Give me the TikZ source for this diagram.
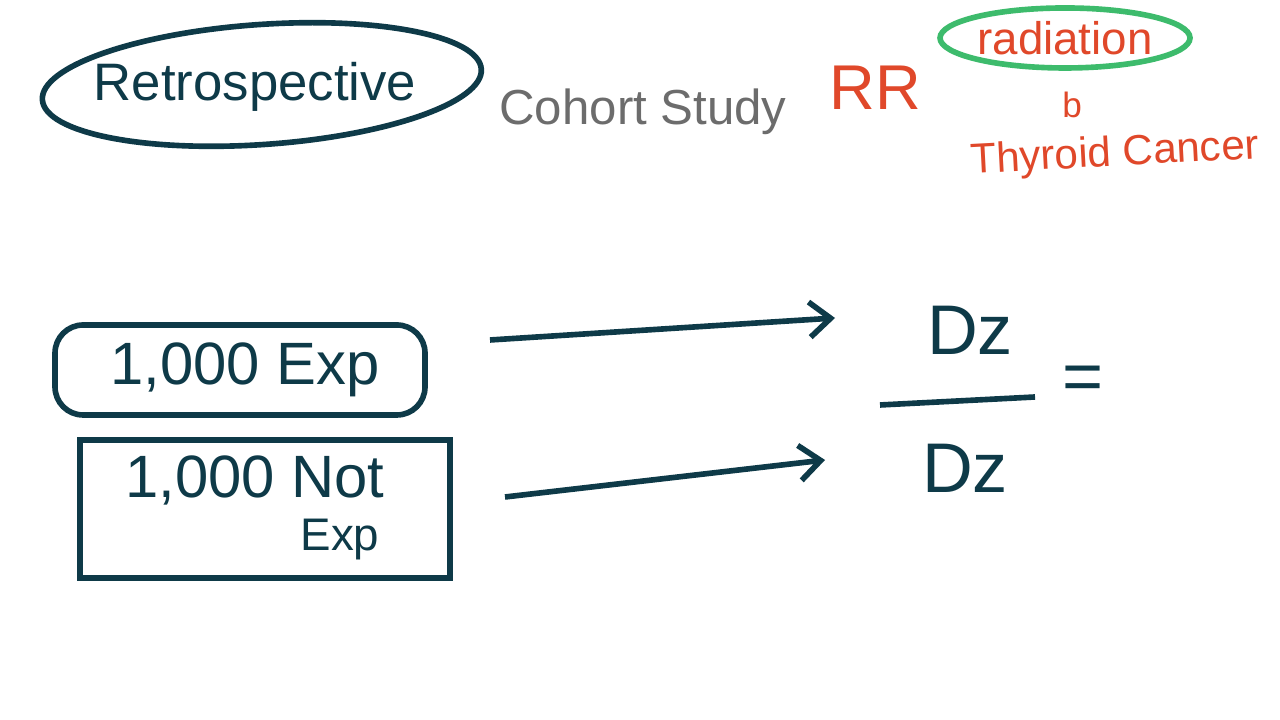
\documentclass[tikz,border=0pt]{standalone}
\usepackage{fontspec}
\setmainfont{Liberation Sans}
\usetikzlibrary{shapes.geometric,arrows.meta}
\definecolor{ink}{HTML}{0E3A48}
\definecolor{redink}{HTML}{E0482A}
\definecolor{greenink}{HTML}{3DBB6C}
\tikzset{
  hand/.style={ink, line width=1.6pt},
  big/.style={font=\fontsize{17}{20}\selectfont, text=ink},
  red/.style={text=redink},
  arr/.style={hand, -{Straight Barb[length=6pt,width=10pt]}}
}
\begin{document}
\begin{tikzpicture}
\useasboundingbox (0,0) rectangle (12.8,7.2);
\fill[white] (0,0) rectangle (12.8,7.2);

\node[big, font=\fontsize{15}{18}\selectfont] (retro) at (2.55,6.33) {Retrospective};
\draw[hand, rotate around={4:(retro.center)}] (2.62,6.35) ellipse (2.2 and 0.6);
\node[text=gray!85!black, font=\fontsize{14}{17}\selectfont] (cohort) at (6.43,6.08) {Cohort Study};

\node[red, font=\fontsize{18}{22}\selectfont] (rr) at (8.75,6.32) {RR};
\node[red, font=\fontsize{13}{16}\selectfont] (rad) at (10.65,6.82) {radiation};
\draw[greenink, line width=1.6pt] (rad.center) ellipse (1.25 and 0.3);
\node[red, font=\fontsize{10}{12}\selectfont] (to) at (10.72,6.15) {b};
\node[red, font=\fontsize{12}{14}\selectfont, rotate=3] (thy) at (11.15,5.65) {Thyroid Cancer};

\draw[hand, rounded corners=8pt] (0.55,3.05) rectangle (4.25,3.95);
\node[big] (exp) at (2.45,3.5) {1,000 Exp};
\draw[hand] (0.8,1.42) rectangle (4.5,2.8);
\node[big] (nexp) at (2.55,2.4) {1,000 Not};
\node[big, font=\fontsize{13}{15}\selectfont] (nexp2) at (3.4,1.8) {Exp};

\node[big, font=\fontsize{20}{24}\selectfont] (dz1) at (9.7,3.9) {Dz};
\node[big, font=\fontsize{20}{24}\selectfont] (dz2) at (9.65,2.52) {Dz};
\coordinate (b1) at (8.8,3.15);
\coordinate (b2) at (10.35,3.23);
\draw[hand] (b1) -- (b2);
\node[big, font=\fontsize{20}{24}\selectfont] (eq) at (10.83,3.37) {=};

\coordinate (a1) at (4.9,3.8);
\coordinate (a1e) at (8.35,4.02);
\coordinate (a2) at (5.05,2.23);
\coordinate (a2e) at (8.25,2.6);
\draw[arr] (a1) -- (a1e);
\draw[arr] (a2) -- (a2e);
\end{tikzpicture}
\end{document}
